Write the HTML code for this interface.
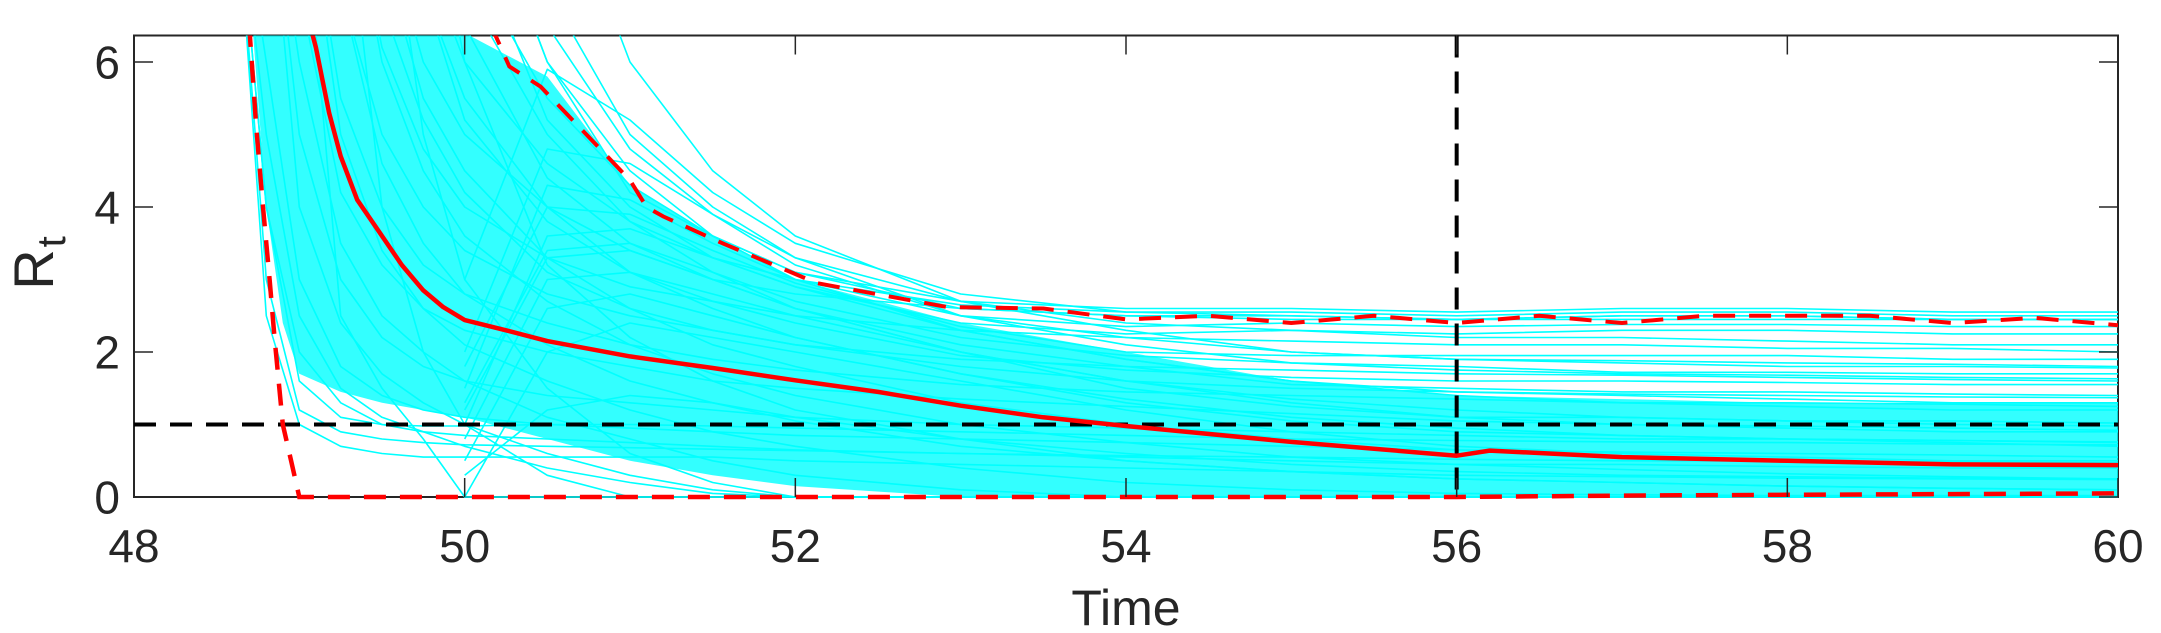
<!DOCTYPE html>
<html><head><meta charset="utf-8"><style>
html,body{margin:0;padding:0;background:#fff;}
svg{display:block;font-family:"Liberation Sans",Arial,sans-serif;}
</style></head><body>
<svg id="chart" width="2161" height="633" viewBox="0 0 2161 633" xmlns="http://www.w3.org/2000/svg" style="position:absolute;left:0;top:0">
<defs><clipPath id="plotclip"><rect x="134" y="35.5" width="1984" height="466"/></clipPath></defs>
<rect x="0" y="0" width="2161" height="633" fill="#fff"/>
<g id="boxg"></g>
<g id="plot" clip-path="url(#plotclip)"></g>
<g id="axes"></g>
</svg>
<script>
// ---------- data ----------
const xTicks = [48, 50, 52, 54, 56, 58, 60];
const yTicks = [0, 2, 4, 6];
const xTickLabels = ["48", "50", "52", "54", "56", "58", "60"];
const yTickLabels = ["0", "2", "4", "6"];
const thresholdR = 1;
const cutoffTime = 56;

const gridT = [48.6,48.8,49,49.25,49.5,49.75,50,50.5,51,51.5,52,53,54,55,56,57,58,59,60];
const N = null;
const trajectories = [
 [9,4,2,1.3,1.0,0.9,0.85,0.8,0.75,0.7,0.65,0.6,0.55,0.5,0.45,0.45,0.42,0.4,0.4],
 [9,6,3,1.8,1.4,1.2,1.1,1.0,0.95,0.9,0.85,0.8,0.75,0.7,0.65,0.62,0.6,0.58,0.55],
 [9,9,5,3,2.2,1.8,1.6,1.4,1.3,1.2,1.1,1.0,0.95,0.9,0.85,0.8,0.8,0.78,0.75],
 [9,9,7,4.2,3.2,2.6,2.3,2.0,1.8,1.6,1.5,1.35,1.25,1.15,1.05,1.0,0.98,0.95,0.92],
 [9,9,9,5.5,4,3.2,2.8,2.4,2.1,1.9,1.75,1.55,1.45,1.4,1.35,1.3,1.3,1.28,1.25],
 [9,9,9,7,5,4,3.4,2.8,2.5,2.3,2.1,1.9,1.8,1.75,1.7,1.68,1.65,1.62,1.6],
 [9,9,9,9,6.2,4.8,4,3.3,2.9,2.7,2.5,2.3,2.2,2.15,2.1,2.1,2.05,2.05,2.0],
 [9,9,9,9,8,6,5,4,3.4,3.0,2.8,2.6,2.5,2.45,2.45,2.45,2.45,2.45,2.45],
 [9,9,9,9,9,7.5,6,4.6,3.8,3.3,3.0,2.65,2.55,2.55,2.5,2.55,2.55,2.5,2.5],
 [9,9,9,9,9,9,7.5,5.5,4.3,3.6,3.1,2.7,2.6,2.6,2.55,2.6,2.6,2.55,2.55],
 [9,5,2.5,1.5,1.1,0.9,0.7,0.4,0.2,0.05,0,0,0,0,0,0,0,0,0],
 [9,9,4,2.4,1.7,1.3,1.0,0.6,0.3,0.1,0,0,0,0,0,0,0,0,0],
 [9,9,6,3.5,2.5,2.0,1.6,1.1,0.8,0.5,0.3,0.1,0,0,0,0,0,0,0],
 [9,9,9,5,3.4,2.6,2.1,1.6,1.2,0.9,0.7,0.4,0.2,0.1,0.05,0.03,0.02,0.02,0.02],
 [9,9,9,7,4.6,3.5,2.8,2.1,1.6,1.3,1.05,0.7,0.5,0.35,0.25,0.2,0.15,0.12,0.1],
 [9,9,9,9,6,4.5,3.6,2.7,2.1,1.7,1.4,1.0,0.75,0.55,0.45,0.38,0.32,0.28,0.25],
 [9,9,9,9,7.5,5.5,4.5,3.3,2.6,2.1,1.8,1.3,1.0,0.8,0.65,0.55,0.5,0.45,0.4],
 [9,9,9,9,9,7,5.5,4,3.1,2.6,2.2,1.7,1.35,1.1,0.95,0.85,0.8,0.75,0.7],
 [9,9,9,9,9,9,7,5,3.8,3.1,2.6,2.0,1.6,1.35,1.2,1.1,1.05,1.0,0.98],
 [9,9,9,9,9,9,9,6,4.5,3.6,3.0,2.3,1.9,1.6,1.45,1.4,1.35,1.3,1.3],
 [9,9,9,9,9,9,9,7,5,4,3.3,2.5,2.1,1.85,1.75,1.7,1.68,1.65,1.63],
 [9,9,9,9,9,9,9,9,6,4.5,3.6,2.7,2.3,2.0,1.9,1.88,1.85,1.83,1.8],
 [9,3,1.2,0.9,0.8,0.75,0.72,0.7,0.68,0.66,0.64,0.6,0.57,0.55,0.52,0.5,0.5,0.48,0.47],
 [9,2.5,1.0,0.7,0.6,0.55,0.55,0.55,0.55,0.55,0.5,0.45,0.4,0.35,0.3,0.28,0.26,0.25,0.24],
 [9,4,1.6,1.1,1.0,0.98,0.98,1.0,1.0,0.98,0.95,0.9,0.85,0.8,0.78,0.76,0.75,0.73,0.72],
 [N,N,N,N,N,N,1.5,4.3,4.1,3.5,3.0,2.5,2.2,2.0,1.9,1.85,1.8,1.8,1.78],
 [N,N,N,N,N,N,1.0,3.6,3.7,3.3,2.9,2.3,1.9,1.6,1.4,1.3,1.25,1.2,1.2],
 [N,N,N,N,N,N,0.8,3.0,3.1,2.8,2.5,2.0,1.6,1.3,1.1,1.0,0.95,0.9,0.9],
 [N,N,N,N,N,N,0,2.0,2.4,2.2,2.0,1.6,1.2,0.9,0.7,0.6,0.55,0.5,0.5],
 [N,N,N,N,N,N,2.0,4.8,4.6,3.9,3.3,2.7,2.4,2.3,2.2,2.2,2.15,2.1,2.1],
 [N,N,N,N,N,N,3.0,5.9,5.2,4.2,3.5,2.8,2.55,2.5,2.45,2.5,2.5,2.45,2.45],
 [N,N,N,N,N,9,9,6,4.2,3.6,3.1,2.6,2.5,2.5,2.45,2.5,2.5,2.45,2.45],
 [N,N,N,N,N,N,0.3,1.2,1.4,1.3,1.1,0.8,0.5,0.35,0.25,0.2,0.15,0.12,0.1],
 [9,9,9,2.5,1.5,0.8,0,0,0,0,0,0,0,0,0,0,0,0,0],
 [9,9,9,9,4,2.0,1.0,0.3,0,0,0,0,0,0,0,0,0,0,0],
 [9,9,9,9,9,5,3.0,1.5,0.6,0.2,0,0,0,0,0,0,0,0,0],
 [9,9,9,9,9,9,6,3.2,2.2,1.6,1.2,0.8,0.6,0.45,0.35,0.3,0.28,0.26,0.25],
 [N,N,N,N,N,N,0.5,2.6,2.8,2.5,2.2,1.7,1.3,1.05,0.9,0.85,0.8,0.78,0.76],
 [N,N,N,N,N,N,1.2,3.3,3.4,3.0,2.6,2.0,1.5,1.25,1.1,1.1,1.05,1.05,1.02],
 [9,9,9,9,9,8,6.5,4.4,3.5,3.0,2.6,2.1,1.8,1.55,1.5,1.45,1.45,1.42,1.4],
 [9,9,9,9,9,9,8,5.2,4.0,3.3,2.9,2.4,2.25,2.3,2.25,2.3,2.3,2.25,2.25],
 [N,N,N,N,N,N,1.8,4.0,3.9,3.4,2.95,2.35,2.0,1.95,1.95,1.95,1.95,1.9,1.9],
 [9,9,9,9,9,7,5.2,3.8,3.1,2.7,2.4,1.95,1.75,1.65,1.6,1.6,1.58,1.55,1.55],
 [N,N,N,N,N,N,1.3,3.4,3.5,3.1,2.7,2.2,1.95,1.85,1.8,1.72,1.72,1.7,1.7],
 [9,9,9,9,9,9,9,6.5,4.8,3.9,3.2,2.5,2.35,2.4,2.35,2.38,2.38,2.35,2.35],
 [9,9,9,9,6.8,5.2,4.2,3.1,2.6,2.3,2.1,1.8,1.6,1.5,1.45,1.42,1.4,1.38,1.37]
];

const bandT    = [48.72,48.8,48.9,49,49.25,49.5,49.75,50,50.5,51,51.5,52,53,54,55,56,57,58,59,60];
const bandHigh = [6.4,6.4,6.4,6.4,6.4,6.4,6.4,6.4,5.8,4.3,3.6,3.0,2.4,2.0,1.6,1.4,1.35,1.3,1.3,1.3];
const bandLow  = [6.4,4.0,2.4,1.7,1.45,1.3,1.2,1.1,0.8,0.5,0.3,0.15,0,0,0,0,0,0,0,0];

const medT = [48.95,49.1,49.18,49.25,49.35,49.5,49.62,49.75,49.87,50,50.25,50.5,51,51.5,52,52.5,53,53.5,54,55,56,56.2,57,58,59,60];
const medV = [7.5,6.2,5.3,4.7,4.1,3.6,3.2,2.85,2.62,2.44,2.3,2.15,1.94,1.78,1.61,1.45,1.26,1.1,0.98,0.76,0.57,0.64,0.55,0.5,0.45,0.44];

const upT = [50.1,50.18,50.27,50.46,51.0,51.1,51.2,51.56,52.13,52.92,53.5,54,54.5,55,55.5,56,56.5,57,57.5,58,58.5,59,59.5,60];
const upV = [7,6.4,5.94,5.66,4.37,4.0,3.87,3.5,2.95,2.62,2.6,2.45,2.5,2.4,2.5,2.4,2.5,2.4,2.5,2.5,2.5,2.4,2.47,2.37];

const loT = [48.65,48.7,48.74,48.78,48.82,48.85,48.9,48.95,49.0,50,52,54,56,57,58,59,60];
const loV = [7.5,6.4,5.1,4,3,2.2,1,0.5,0,0,0,0,0,0.02,0.03,0.04,0.05];

// ---------- axis functions ----------
const X0 = 134, X1 = 2118, Y0 = 497, YT = 35.5;
const xMin = 48, xMax = 60, yMin = 0, yMax = 6.366;
function xs(t){ return X0 + (t - xMin) / (xMax - xMin) * (X1 - X0); }
function ys(v){ return Y0 - (v - yMin) / (yMax - yMin) * (Y0 - YT); }

const NS = "http://www.w3.org/2000/svg";
const plot = document.getElementById('plot');
const axes = document.getElementById('axes');
const boxg = document.getElementById('boxg');
function mk(tag, attrs, parent){
  const e = document.createElementNS(NS, tag);
  for (const k in attrs) e.setAttribute(k, attrs[k]);
  parent.appendChild(e);
  return e;
}
function pathFrom(ts, vs){
  let d = "", started = false;
  for (let i = 0; i < ts.length; i++){
    if (vs[i] === null) { started = false; continue; }
    d += (started ? "L" : "M") + xs(ts[i]).toFixed(1) + "," + ys(vs[i]).toFixed(1);
    started = true;
  }
  return d;
}

const box = mk('rect', {x: X0, y: YT, width: X1 - X0, height: Y0 - YT, fill: 'none', stroke: '#262626', 'stroke-width': '2'}, boxg);



let bd = "";
for (let i = 0; i < bandT.length; i++) bd += (i ? "L" : "M") + xs(bandT[i]).toFixed(1) + "," + ys(bandHigh[i]).toFixed(1);
for (let i = bandT.length - 1; i >= 0; i--) bd += "L" + xs(bandT[i]).toFixed(1) + "," + ys(bandLow[i]).toFixed(1);
bd += "Z";
const band = mk('path', {d: bd, fill: '#00ffff', 'fill-opacity': '0.8', stroke: 'none'}, plot);



trajectories.forEach((tr, i) => {
  const p = mk('path', {d: pathFrom(gridT, tr), fill: 'none', stroke: '#00ffff', 'stroke-width': '1.6', 'stroke-linejoin': 'round'}, plot);
  
  
});

const hl = mk('line', {x1: X0, x2: X1, y1: ys(thresholdR), y2: ys(thresholdR), stroke: '#000', 'stroke-width': '4', 'stroke-dasharray': '22,14'}, plot);


const vl = mk('line', {x1: xs(cutoffTime), x2: xs(cutoffTime), y1: YT, y2: Y0, stroke: '#000', 'stroke-width': '4', 'stroke-dasharray': '22,14'}, plot);



const up = mk('path', {d: pathFrom(upT, upV), fill: 'none', stroke: '#ff0000', 'stroke-width': '4', 'stroke-dasharray': '22,14'}, plot);


const lo = mk('path', {d: pathFrom(loT, loV), fill: 'none', stroke: '#ff0000', 'stroke-width': '4.5', 'stroke-dasharray': '22,14'}, plot);


const md = mk('path', {d: pathFrom(medT, medV), fill: 'none', stroke: '#ff0000', 'stroke-width': '4.5', 'stroke-linejoin': 'round'}, plot);



xTicks.forEach((t, i) => {
  const x = xs(t);
  const tb = mk('line', {x1: x, x2: x, y1: Y0, y2: Y0 - 19, stroke: '#262626', 'stroke-width': '1.5'}, axes);
  
  
  const tt = mk('line', {x1: x, x2: x, y1: YT, y2: YT + 19, stroke: '#262626', 'stroke-width': '1.5'}, axes);
  
  
  const lb = mk('text', {x: x, y: 562, 'text-anchor': 'middle', 'font-size': '46', fill: '#262626'}, axes);
  lb.textContent = xTickLabels[i];
  
  
});
yTicks.forEach((v, i) => {
  const y = ys(v);
  const tl = mk('line', {x1: X0, x2: X0 + 19, y1: y, y2: y, stroke: '#262626', 'stroke-width': '1.5'}, axes);
  
  
  const tr = mk('line', {x1: X1, x2: X1 - 19, y1: y, y2: y, stroke: '#262626', 'stroke-width': '1.5'}, axes);
  
  
  const lb = mk('text', {x: 120, y: y + 16.5, 'text-anchor': 'end', 'font-size': '46', fill: '#262626'}, axes);
  lb.textContent = yTickLabels[i];
  
  
});
</script>
<svg style="position:absolute;left:0;top:0" width="2161" height="633">
<text x="1126" y="625" text-anchor="middle" font-family="Liberation Sans, sans-serif" font-size="50" fill="#262626">Time</text>
<text transform="translate(53,263) rotate(-90)" text-anchor="middle" font-family="Liberation Sans, sans-serif" font-size="56" fill="#262626">R<tspan font-size="40" dx="2" baseline-shift="-12">t</tspan></text>
</svg>
</body></html>
